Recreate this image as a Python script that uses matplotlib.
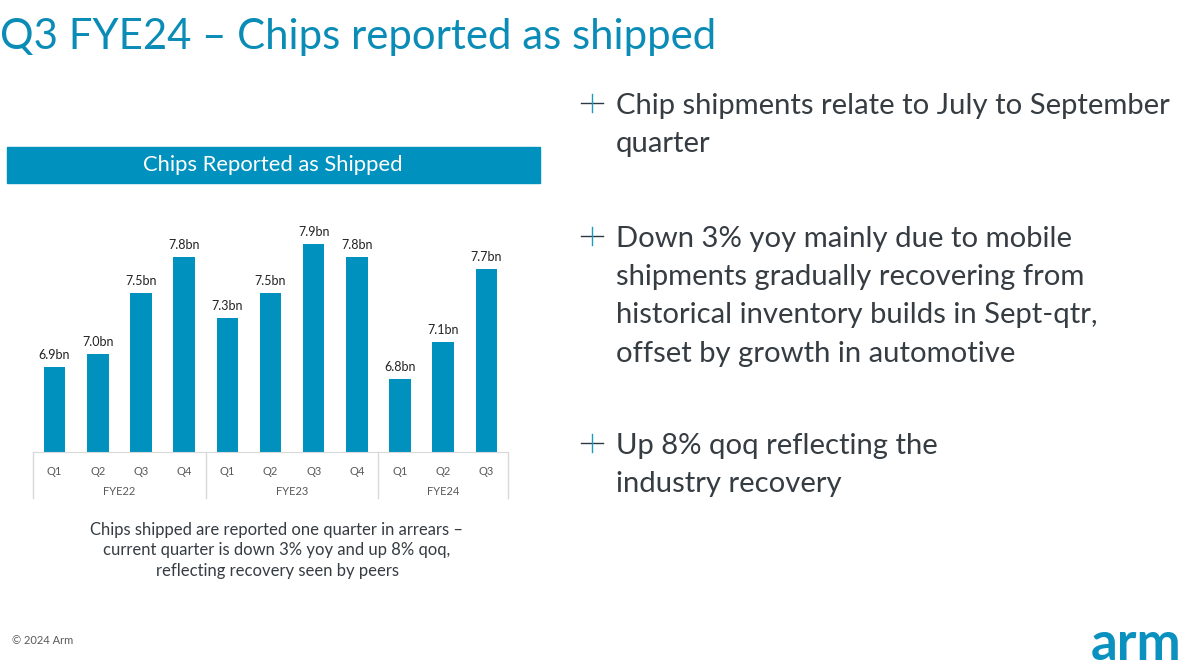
import matplotlib.pyplot as plt
from matplotlib.patches import Rectangle

plt.rcParams['font.family'] = ['Lato', 'DejaVu Sans']

quarters = ['Q1', 'Q2', 'Q3', 'Q4', 'Q1', 'Q2', 'Q3', 'Q4', 'Q1', 'Q2', 'Q3']
years = ['FYE22', 'FYE23', 'FYE24']
year_sizes = [4, 4, 3]
chips_bn = [6.9, 7.0, 7.5, 7.8, 7.3, 7.5, 7.9, 7.8, 6.8, 7.1, 7.7]

bullets = [
    ['Chip shipments relate to July to September', 'quarter'],
    ['Down 3% yoy mainly due to mobile', 'shipments gradually recovering from',
     'historical inventory builds in Sept-qtr,', 'offset by growth in automotive'],
    ['Up 8% qoq reflecting the', 'industry recovery'],
]
caption = ['Chips shipped are reported one quarter in arrears \u2013',
           'current quarter is down 3% yoy and up 8% qoq,',
           'reflecting recovery seen by peers']

BLUE = '#0091bf'
TEXT = '#353c42'
W, H = 1189, 669

fig = plt.figure(figsize=(W / 100, H / 100), dpi=100)


def fx(px):
    return px / W


def fy(py):
    return 1 - py / H


# title
fig.text(fx(0), fy(37), 'Q3 FYE24 \u2013 Chips reported as shipped', color='#0a8cb6',
         fontsize=30.2, va='center', ha='left')

# header bar over chart
fig.patches.append(Rectangle((fx(7), fy(183)), fx(533), (183 - 147) / H,
                             transform=fig.transFigure, color=BLUE))
fig.text(fx(273), fy(165), 'Chips Reported as Shipped', color='white', fontsize=15.8,
         ha='center', va='center')

# bar chart
ax = fig.add_axes([fx(33), fy(452), fx(508 - 33), (452 - 220) / H])
x = list(range(len(chips_bn)))
ax.bar(x, chips_bn, width=0.5, color=BLUE, bottom=0)
ax.set_ylim(6.2, 8.1)
ax.set_xlim(-0.5, len(chips_bn) - 0.5)
for i, v in zip(x, chips_bn):
    ax.annotate(f'{v:.1f}bn', (i, v), xytext=(0, 12), textcoords='offset pixels',
                ha='center', va='center', fontsize=9, color='#222222')
for s in ['top', 'right', 'left']:
    ax.spines[s].set_visible(False)
ax.spines['bottom'].set_color('#d9d9d9')
ax.set_yticks([])
ax.set_xticks(x)
ax.set_xticklabels(quarters, fontsize=8, color='#595959')
ax.tick_params(axis='x', length=0, pad=10)
trans = ax.get_xaxis_transform()
edges = [-0.5]
for n in year_sizes:
    edges.append(edges[-1] + n)
for e in edges:
    ax.plot([e, e], [0, -0.198], transform=trans, color='#d9d9d9', lw=1, clip_on=False)
for k, name in enumerate(years):
    ax.text((edges[k] + edges[k + 1]) / 2, -0.172, name, transform=trans, ha='center',
            va='center', fontsize=8, color='#595959')

# caption
for k, line in enumerate(caption):
    fig.text(fx(277), fy(530 + k * 20.5), line, ha='center', va='center', fontsize=12,
             color=TEXT)

# bullets
starts = [106, 239, 446]
for y0, lines in zip(starts, bullets):
    cy = fy(y0 - 3)
    fig.lines.append(plt.Line2D([fx(581), fx(603)], [cy, cy], transform=fig.transFigure,
                                color='#2b3a44', lw=1))
    fig.lines.append(plt.Line2D([fx(592), fx(592)], [cy - 9 / H, cy + 9 / H],
                                transform=fig.transFigure, color='#1a9bbf', lw=1))
    for k, line in enumerate(lines):
        fig.text(fx(616), fy(y0 + k * 38.2), line, ha='left', va='center', fontsize=21.1,
                 color=TEXT)

# footer
fig.text(fx(12), fy(641), '\u00a9 2024 Arm', fontsize=8, color='#595959', va='center')
fig.text(fx(1181), fy(644), 'arm', fontsize=38, color='#0a91c0', ha='right', va='center',
         fontweight='bold')

fig.savefig('out.png', dpi=100)
